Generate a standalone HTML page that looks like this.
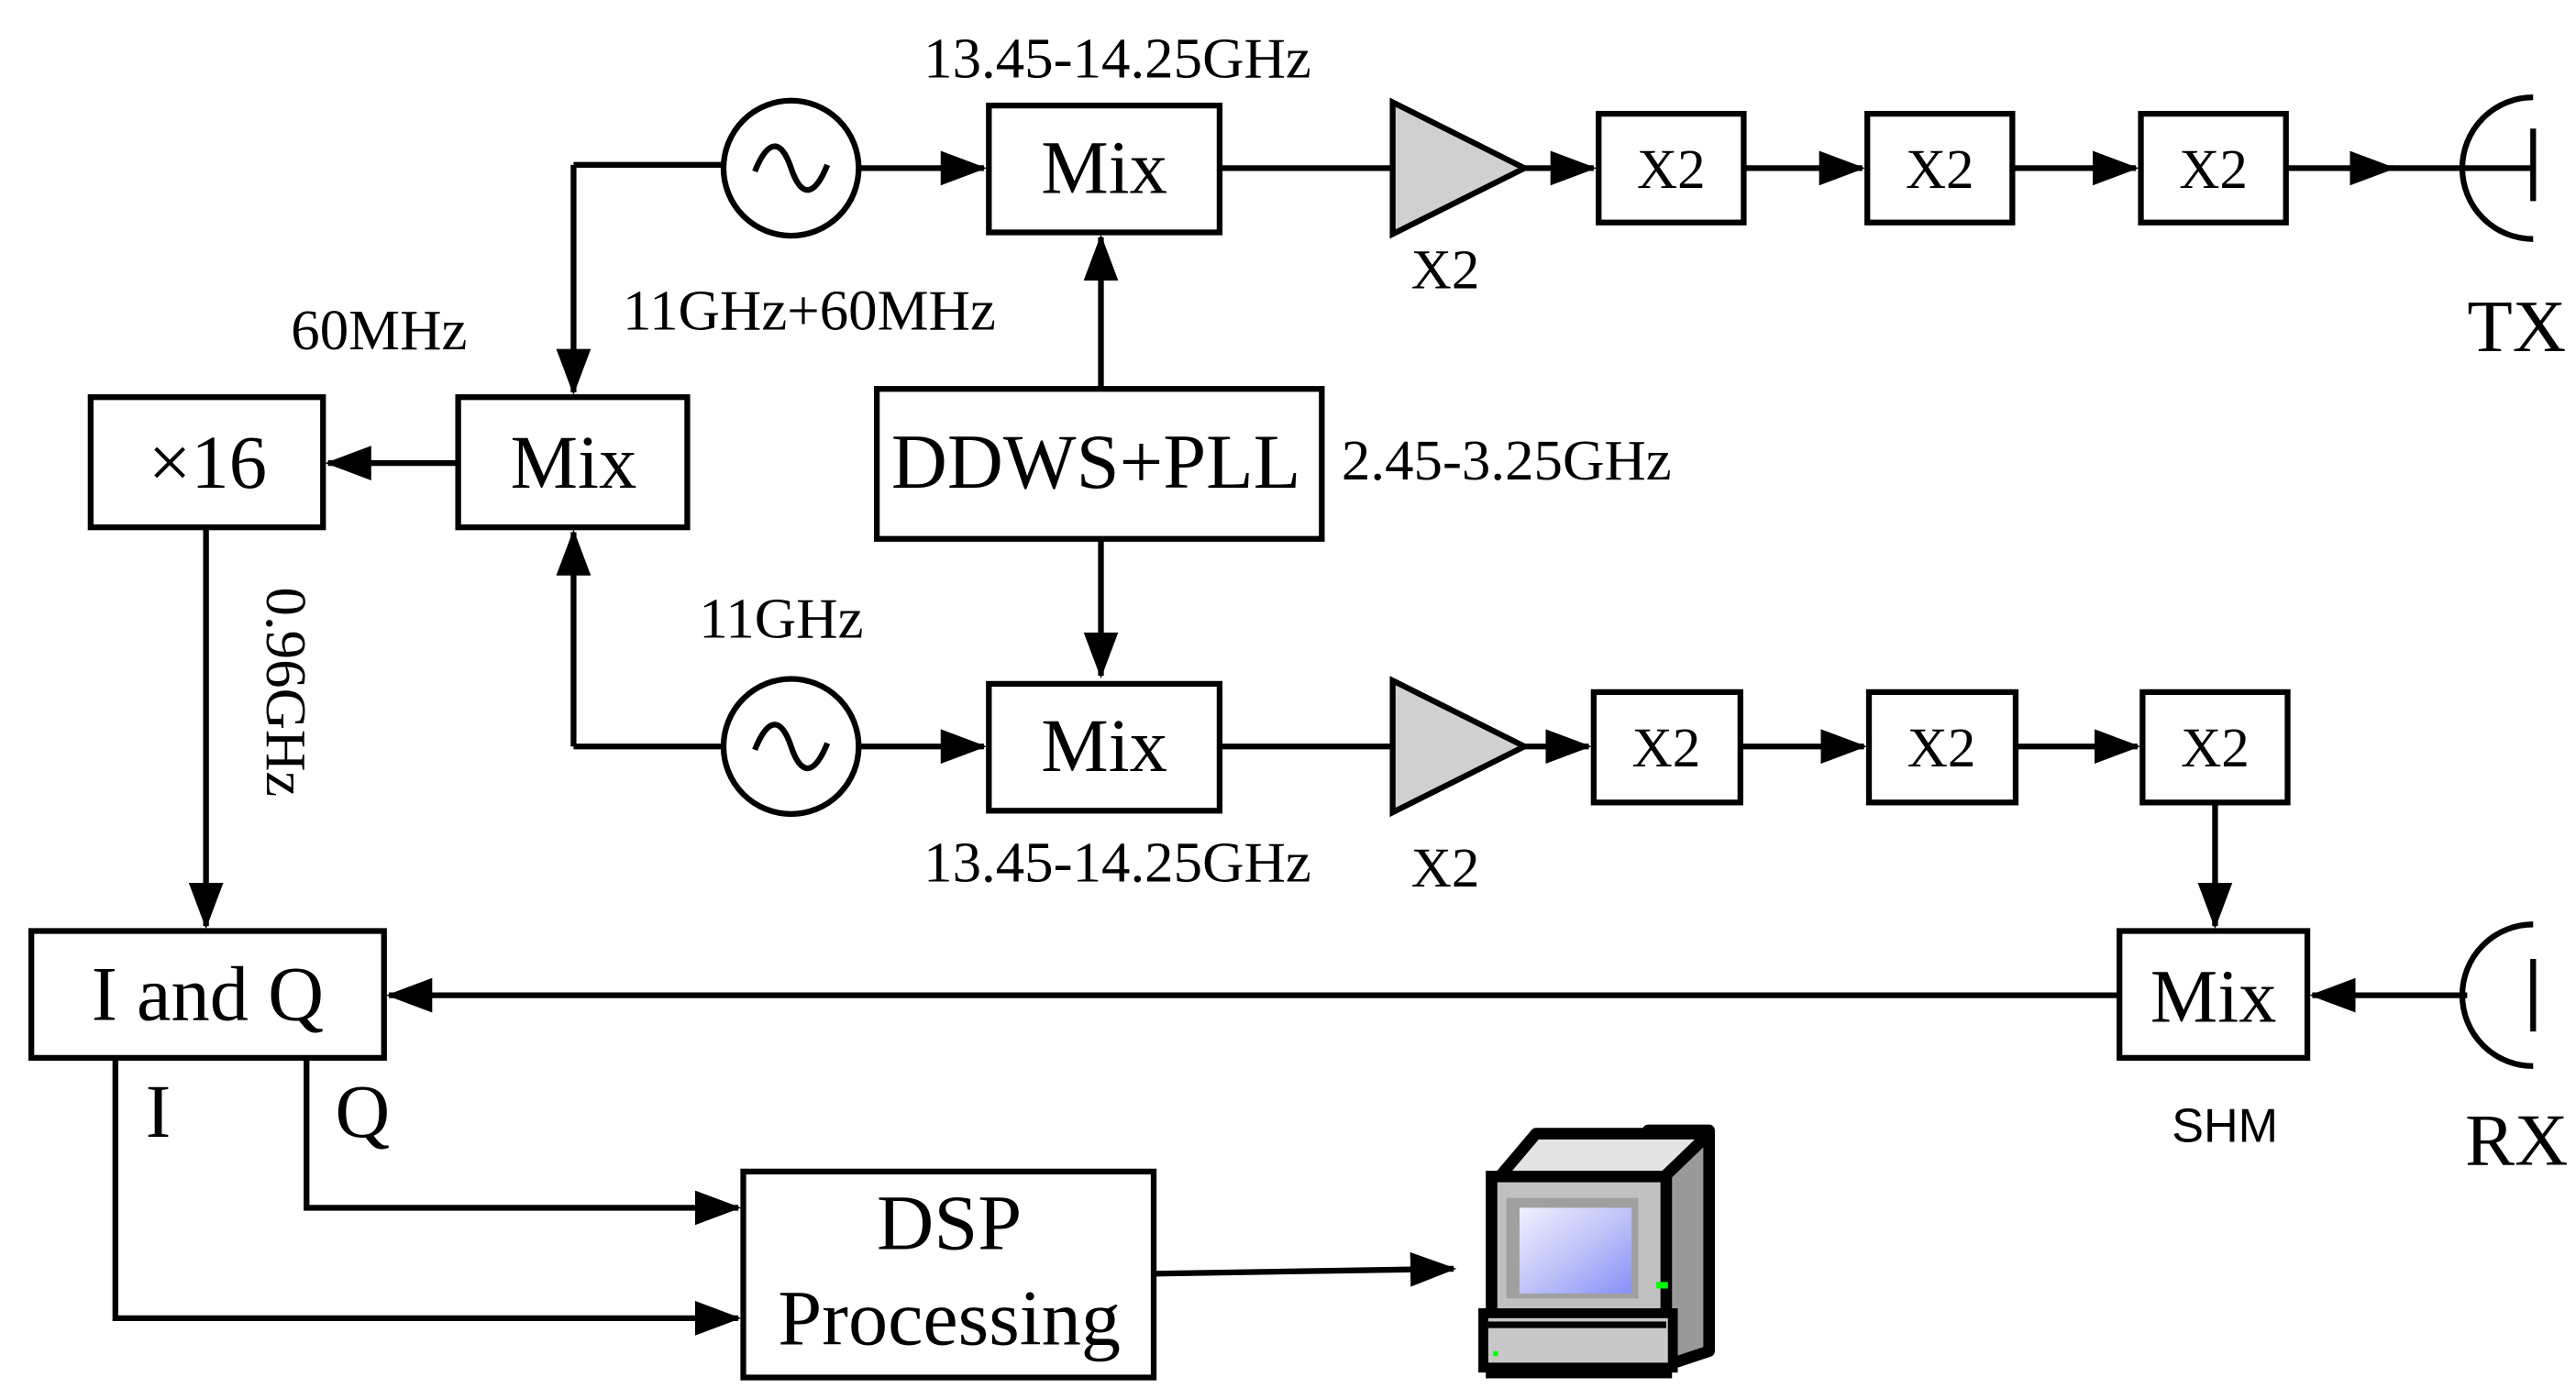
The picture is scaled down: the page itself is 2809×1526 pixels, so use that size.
<!DOCTYPE html>
<html><head><meta charset="utf-8"><style>
html,body{margin:0;padding:0;background:#fff;}
svg{display:block;}
text{font-family:"Liberation Serif",serif;fill:#000;}
</style></head><body>
<svg width="2809" height="1526" viewBox="0 0 1563 849" xmlns="http://www.w3.org/2000/svg">
<defs>
<marker id="a" markerWidth="8" markerHeight="6" refX="7.5" refY="3" orient="auto" markerUnits="strokeWidth">
<path d="M0,0 L8,3 L0,6 z" fill="#000"/></marker>
<linearGradient id="scr" x1="0" y1="0" x2="1" y2="1"><stop offset="0" stop-color="#f0f0ff"/><stop offset="0.5" stop-color="#c0c4f8"/><stop offset="1" stop-color="#8890f8"/></linearGradient>
</defs>
<g stroke="#000" stroke-width="3.5" fill="none">
<path d="M348,100 H440"/>
<path d="M348,100 V238" marker-end="url(#a)"/>
<circle cx="480" cy="102" r="41" fill="#fff"/>
<path d="M458,104 C466,84 474,84 480,102 C486,120 494,120 502,100"/>
<path d="M521,102 H597" marker-end="url(#a)"/>
<rect x="600" y="64" width="140" height="77" fill="#fff"/>
<path d="M740,102 H845"/>
<path d="M845,62 L925,102 L845,142 Z" fill="#d0d0d0"/>
<path d="M925,102 H967" marker-end="url(#a)"/>
<rect x="970" y="69" width="88" height="66" fill="#fff"/>
<path d="M1058,102 H1130" marker-end="url(#a)"/>
<rect x="1133" y="69" width="88" height="66" fill="#fff"/>
<path d="M1221,102 H1296" marker-end="url(#a)"/>
<rect x="1299" y="69" width="88" height="66" fill="#fff"/>
<path d="M1387,102 H1452" marker-end="url(#a)"/>
<path d="M1450,102 H1537"/>
<path d="M1537,59 A43,43 0 0 0 1537,145"/>
<path d="M1537,78 V122"/>
<rect x="278" y="241" width="139" height="79" fill="#fff"/>
<rect x="55" y="241" width="141" height="79" fill="#fff"/>
<path d="M278,281 H199" marker-end="url(#a)"/>
<rect x="532" y="236" width="270" height="91" fill="#fff"/>
<path d="M668,236 V144" marker-end="url(#a)"/>
<path d="M668,327 V410" marker-end="url(#a)"/>
<path d="M348,453 H440"/>
<path d="M348,453 V323" marker-end="url(#a)"/>
<circle cx="480" cy="453" r="41" fill="#fff"/>
<path d="M458,455 C466,435 474,435 480,453 C486,471 494,471 502,451"/>
<path d="M521,453 H597" marker-end="url(#a)"/>
<rect x="600" y="415" width="140" height="77" fill="#fff"/>
<path d="M740,453 H845"/>
<path d="M845,413 L925,453 L845,493 Z" fill="#d0d0d0"/>
<path d="M925,453 H964" marker-end="url(#a)"/>
<rect x="967" y="420" width="89" height="67" fill="#fff"/>
<path d="M1056,453 H1131" marker-end="url(#a)"/>
<rect x="1134" y="420" width="89" height="67" fill="#fff"/>
<path d="M1223,453 H1297" marker-end="url(#a)"/>
<rect x="1300" y="420" width="88" height="67" fill="#fff"/>
<path d="M1344,487 V562" marker-end="url(#a)"/>
<rect x="1286" y="565" width="114" height="77" fill="#fff"/>
<path d="M1497,604 H1403" marker-end="url(#a)"/>
<path d="M1537,561 A43,43 0 0 0 1537,647"/>
<path d="M1537,582 V626"/>
<path d="M1286,604 H236" marker-end="url(#a)"/>
<rect x="19" y="565" width="214" height="77" fill="#fff"/>
<path d="M125,320 V562" marker-end="url(#a)"/>
<path d="M186,642 V733 H448" marker-end="url(#a)"/>
<path d="M70,642 V800 H448" marker-end="url(#a)"/>
<rect x="451" y="711" width="249" height="125" fill="#fff"/>
<path d="M700,773 L882,770" marker-end="url(#a)"/>
</g>
<g>
<path d="M1000,686 L1037,686 L1037,820 L1010,829 Z" fill="#999" stroke="#000" stroke-width="7" stroke-linejoin="round"/>
<path d="M910,714 L932,688 L1037,688 L1010,714 Z" fill="#e4e4e4" stroke="#000" stroke-width="7" stroke-linejoin="round"/>
<rect x="905" y="714" width="106" height="119" fill="#c0c0c0" stroke="#000" stroke-width="7"/>
<rect x="914" y="727" width="80" height="61" fill="#a0a0a0"/>
<rect x="922" y="733" width="68" height="52" fill="url(#scr)"/>
<rect x="1005" y="778" width="7" height="4" fill="#0f0"/>
<rect x="900" y="797" width="115" height="33" fill="#c8c8c8" stroke="#000" stroke-width="6"/>
<rect x="903" y="802" width="108" height="4" fill="#000"/>
<rect x="906" y="820" width="3" height="3" fill="#0f0"/>
</g>
<g font-size="46" text-anchor="middle">
<text x="670" y="117">Mix</text>
<text x="670" y="468">Mix</text>
<text x="348" y="296">Mix</text>
<text x="1343" y="620">Mix</text>
<text x="126" y="296">×16</text>
<text x="665" y="296" font-size="47">DDWS+PLL</text>
<text x="126" y="619" font-size="47">I and Q</text>
<text x="576" y="758" font-size="48">DSP</text>
<text x="576" y="816" font-size="48">Processing</text>
<text x="1527" y="213" font-size="45">TX</text>
<text x="1527" y="707" font-size="45">RX</text>
<text x="96" y="690">I</text>
<text x="220" y="690">Q</text>
</g>
<g font-size="34" text-anchor="middle">
<text x="1014" y="114">X2</text>
<text x="1177" y="114">X2</text>
<text x="1343" y="114">X2</text>
<text x="1011" y="465">X2</text>
<text x="1178" y="465">X2</text>
<text x="1344" y="465">X2</text>
<text x="877" y="175">X2</text>
<text x="877" y="538">X2</text>
<text x="678" y="47" font-size="35">13.45-14.25GHz</text>
<text x="678" y="535" font-size="35">13.45-14.25GHz</text>
<text x="230" y="212" font-size="35">60MHz</text>
<text x="491" y="200" font-size="35">11GHz+60MHz</text>
<text x="474" y="387" font-size="35">11GHz</text>
<text x="814" y="291" font-size="35" text-anchor="start">2.45-3.25GHz</text>
<text x="152" y="420" transform="rotate(90 152 420)" dy="-10" font-size="35">0.96GHz</text>
<text x="1350" y="693" style="font-family:'Liberation Sans',sans-serif" font-size="29">SHM</text>
</g>
</svg>
</body></html>
